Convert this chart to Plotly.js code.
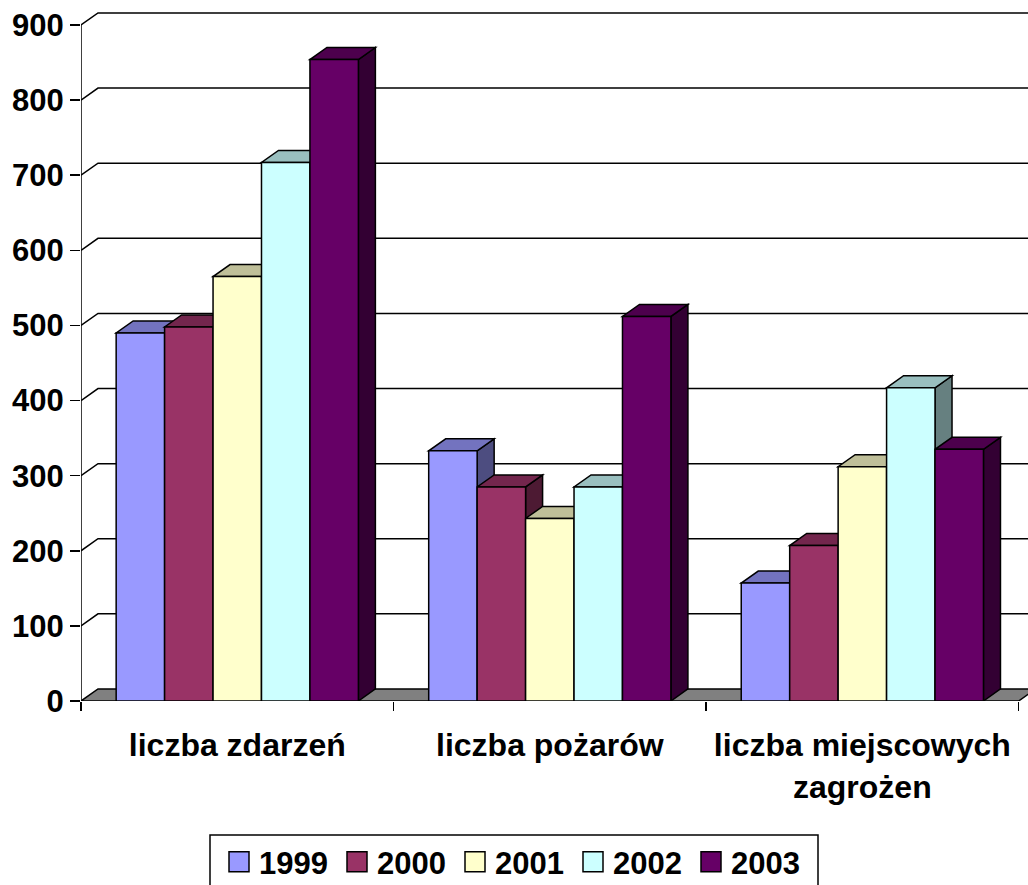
<!DOCTYPE html>
<html>
<head>
<meta charset="utf-8">
<script src="https://cdn.plot.ly/plotly-3.0.1.min.js"></script>
<style>html,body{margin:0;padding:0;background:#fff;}#chart{width:1028px;height:885px;}</style>
</head>
<body>
<div id="chart"></div>
<script>
// ---- data ----
const categories = ['liczba zdarzeń', 'liczba pożarów', 'liczba miejscowych<br>zagrożen'];
const years = ['1999', '2000', '2001', '2002', '2003'];
const v1999 = [490, 333, 157];
const v2000 = [498, 285, 207];
const v2001 = [565, 243, 312];
const v2002 = [717, 285, 417];
const v2003 = [854, 512, 335];
const yTicks = [0, 100, 200, 300, 400, 500, 600, 700, 800, 900];

// ---- style ----
const series = [v1999, v2000, v2001, v2002, v2003];
const frontColors = ['#9999FF', '#993366', '#FFFFCC', '#CCFFFF', '#660066'];
function shade(hex, f) {
  const n = parseInt(hex.slice(1), 16);
  const r = Math.round(((n >> 16) & 255) * f), g = Math.round(((n >> 8) & 255) * f), b = Math.round((n & 255) * f);
  return 'rgb(' + r + ',' + g + ',' + b + ')';
}
const topColors = frontColors.map(c => shade(c, 0.75));
const sideColors = frontColors.map(c => shade(c, 0.5));

const nCat = categories.length;
const GROUP = 0.775;               // fraction of category occupied by the bar group
const W = GROUP / years.length;    // single bar width (x units)
const DX = 0.0544;                 // depth offset in x units
const DY = 16;                     // depth offset in y units
const XMAX = 3.03;
const YMAX = 926.6;
const LW = 1.5;
const yTop = yTicks[yTicks.length - 1];

// plot-area geometry (px) used to place the legend frame
const M = {l: 81, r: 0, t: 5, b: 184};
const PW = 1028 - M.l - M.r, PH = 885 - M.t - M.b;
const px2paperX = px => (px - M.l) / PW;
const px2paperY = py => (885 - M.b - py) / PH;

const catPos = categories.map((_, c) => c + 0.5);

const shapes = [];
// back-wall gridlines
yTicks.filter(v => v > 0).forEach(v => {
  shapes.push({type: 'path', layer: 'below', xref: 'x', yref: 'y',
    path: `M0,${v} L${DX},${v + DY} L${XMAX},${v + DY}`,
    line: {color: 'black', width: LW}});
});
// floor
shapes.push({type: 'path', layer: 'below', xref: 'x', yref: 'y',
  path: `M0,0 L${nCat},0 L${nCat + DX},${DY} L${DX},${DY} Z`,
  fillcolor: '#808080', line: {color: 'black', width: LW}});
// value axis line
shapes.push({type: 'line', layer: 'below', xref: 'x', yref: 'y',
  x0: 0, y0: 0, x1: 0, y1: yTop, line: {color: 'black', width: LW}});
// 3D tops and sides
for (let c = 0; c < nCat; c++) {
  for (let i = 0; i < years.length; i++) {
    const L = c + (1 - GROUP) / 2 + i * W;
    const R = L + W;
    const v = series[i][c];
    shapes.push({type: 'path', layer: 'below', xref: 'x', yref: 'y',
      path: `M${R},${v} L${R + DX},${v + DY} L${R + DX},${DY} L${R},0 Z`,
      fillcolor: sideColors[i], line: {color: 'black', width: LW}});
    shapes.push({type: 'path', layer: 'below', xref: 'x', yref: 'y',
      path: `M${L},${v} L${R},${v} L${R + DX},${v + DY} L${L + DX},${v + DY} Z`,
      fillcolor: topColors[i], line: {color: 'black', width: LW}});
  }
}
// legend frame
shapes.push({type: 'rect', layer: 'above', xref: 'paper', yref: 'paper',
  x0: px2paperX(210), x1: px2paperX(818), y0: px2paperY(835), y1: px2paperY(892),
  fillcolor: 'white', line: {color: 'black', width: LW}});

const traces = years.map((yr, i) => ({
  type: 'bar',
  name: yr,
  x: catPos,
  y: series[i],
  offset: -GROUP / 2 + i * W,
  width: W,
  marker: {color: frontColors[i], line: {color: 'black', width: LW}},
  hoverinfo: 'name+y'
}));

const FONT = 'Liberation Sans, Arial, sans-serif';
const layout = {
  width: 1028, height: 885,
  margin: {l: M.l, r: M.r, t: M.t, b: M.b, pad: 0},
  paper_bgcolor: 'white', plot_bgcolor: 'white',
  font: {family: FONT, color: 'black'},
  barmode: 'overlay',
  shapes: shapes,
  showlegend: true,
  xaxis: {
    range: [0, XMAX], fixedrange: true,
    tickmode: 'array', tickvals: catPos, ticktext: categories,
    ticks: '', showgrid: false, zeroline: false, showline: false,
    tickfont: {family: FONT, size: 32, weight: 'bold', color: 'black'},
    ticklabelstandoff: 22,
    minor: {tickmode: 'linear', tick0: 0, dtick: 1, ticks: 'outside', ticklen: 9,
            tickwidth: LW, tickcolor: 'black', showgrid: false}
  },
  yaxis: {
    range: [0, YMAX], fixedrange: true,
    tickmode: 'array', tickvals: yTicks,
    ticks: 'outside', ticklen: 10, tickwidth: LW, tickcolor: 'black',
    showgrid: false, zeroline: false, showline: false,
    tickfont: {family: FONT, size: 31, weight: 'bold', color: 'black'},
    ticklabelstandoff: 0
  },
  legend: {
    orientation: 'h', xref: 'container', yref: 'container',
    x: 0.5, xanchor: 'center', y: 1 - 835 / 885, yanchor: 'top',
    bgcolor: 'rgba(0,0,0,0)', borderwidth: 0,
    entrywidth: 73, entrywidthmode: 'pixels',
    font: {family: FONT, size: 31, weight: 'bold', color: 'black'},
    itemclick: false, itemdoubleclick: false
  }
};

Plotly.newPlot('chart', traces, layout, {displayModeBar: false, staticPlot: true}).then(gd => {
  gd.querySelectorAll('.legendpoints path').forEach(p => p.setAttribute('d', 'M10,10H-10V-10H10Z'));
});
</script>
</body>
</html>
